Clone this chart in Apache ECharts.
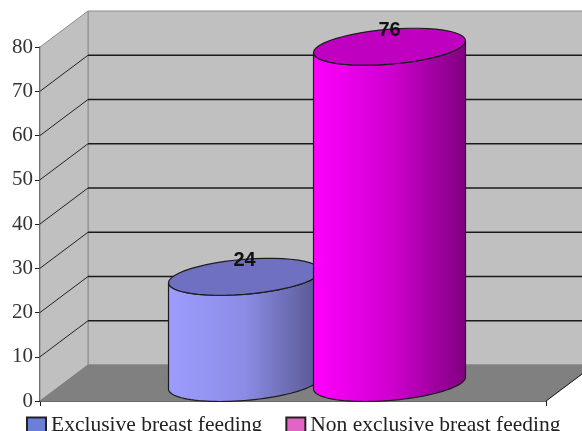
<!DOCTYPE html>
<html><head><meta charset="utf-8">
<style>html,body{margin:0;padding:0;background:#fff}#c{width:582px;height:431px}</style>
<script src="https://cdn.jsdelivr.net/npm/echarts@6/dist/echarts.min.js"></script>
</head><body><div id="c"></div>
<script>
const categories = ['Exclusive breast feeding', 'Non exclusive breast feeding'];
const values = [24, 76];
const yTicks = [0, 10, 20, 30, 40, 50, 60, 70, 80];
const gridTicks = [10, 20, 30, 40, 50, 60, 70];

const legendColors = ['#6a7fd6', '#e264c4'];
const bodyColors = [['#9c9cff', '#8c8ce6', '#56568f'], ['#ff00ff', '#d000d0', '#800080']];
const topColors = ['#7070c2', '#c000c0'];
const DX = 48, DY = -36, RX = 76, RY = 17.5, SKEW = 6;
const WALL = '#c0c0c0', FLOOR = '#808080', EDGE = '#8c8c8c', INK = '#1c1c1c';

const chart = echarts.init(document.getElementById('c'), null, {renderer: 'canvas'});

function wallItem(params, api) {
  const bl = api.coord([0, 0]), tl = api.coord([0, 80]), br = api.coord([1, 0]);
  const s = {fill: WALL, stroke: EDGE, lineWidth: 1};
  return {type: 'group', children: [
    {type: 'polygon', shape: {points: [[tl[0] + DX, tl[1] + DY], [br[0] + 80, tl[1] + DY], [br[0] + 80, bl[1] + DY], [bl[0] + DX, bl[1] + DY]]}, style: s},
    {type: 'polygon', shape: {points: [tl, [tl[0] + DX, tl[1] + DY], [bl[0] + DX, bl[1] + DY], bl]}, style: s},
    {type: 'polygon', shape: {points: [bl, br, [br[0] + DX, br[1] + DY], [br[0] + 80, bl[1] + DY], [bl[0] + DX, bl[1] + DY]]}, style: {fill: FLOOR, stroke: FLOOR, lineWidth: 1}},
    {type: 'line', shape: {x1: br[0], y1: br[1], x2: br[0] + DX, y2: br[1] + DY}, style: {stroke: INK, lineWidth: 1}}
  ]};
}
function gridItem(params, api) {
  const p = api.coord([0, api.value(0)]), r = api.coord([1, api.value(0)]);
  return {type: 'group', children: [
    {type: 'line', shape: {x1: p[0], y1: p[1], x2: p[0] + DX, y2: p[1] + DY}, style: {stroke: '#222', lineWidth: 1}},
    {type: 'line', shape: {x1: p[0] + DX, y1: p[1] + DY, x2: r[0] + 80, y2: p[1] + DY}, style: {stroke: '#1a1a1a', lineWidth: 1.5}}
  ]};
}
function ring(cx, cy, from, to) {
  const pts = [];
  for (let i = 0; i <= 48; i++) {
    const t = from + (to - from) * i / 48;
    pts.push([cx + RX * Math.cos(t), cy + RY * Math.sin(t) - SKEW * Math.cos(t)]);
  }
  return pts;
}
function cylinder(params, api) {
  const i = api.value(0);
  const base = api.coord([i, 0]), top = api.coord([i, api.value(1)]);
  const cx = base[0];
  const front = ring(cx, base[1], 0, Math.PI);
  const body = [...front, ...ring(cx, top[1], Math.PI, 0)];
  const c = bodyColors[i];
  return {type: 'group', children: [
    {type: 'polygon', shape: {points: body}, style: {
      fill: new echarts.graphic.LinearGradient(0, 0, 1, 0, [{offset: 0, color: c[0]}, {offset: 0.5, color: c[1]}, {offset: 1, color: c[2]}]),
      stroke: INK, lineWidth: 1.2}},
    {type: 'polygon', shape: {points: ring(cx, top[1], 0, 2 * Math.PI)}, style: {fill: topColors[i], stroke: INK, lineWidth: 1.2}},
    {type: 'text', style: {x: cx, y: top[1] - 16, text: String(api.value(1)), align: 'center', verticalAlign: 'middle',
      font: 'bold 20px "Liberation Sans", sans-serif', fill: '#111'}}
  ]};
}

chart.setOption({
  animation: false,
  backgroundColor: '#fff',
  grid: [
    {left: 40, right: 36, top: 47, bottom: 30},
    {left: 172, right: 120, top: 29, bottom: 48}
  ],
  legend: {
    data: categories, left: 26, top: 414, padding: 0, itemWidth: 19, itemHeight: 15, itemGap: 23,
    icon: 'rect', inactiveColor: '#333',
    textStyle: {fontFamily: '"Liberation Serif", serif', fontSize: 21.5, color: '#222', padding: [3, 0, 0, 0]}
  },
  xAxis: [
    {type: 'value', gridIndex: 0, min: 0, max: 1, interval: 1,
      axisLine: {show: true, onZero: false, lineStyle: {color: INK, width: 1.5}},
      axisTick: {show: true, length: 5, lineStyle: {color: INK}},
      axisLabel: {show: false}, splitLine: {show: false}},
    {type: 'category', gridIndex: 1, data: categories, show: false}
  ],
  yAxis: [
    {type: 'value', gridIndex: 0, min: 0, max: 80, interval: 10,
      axisLine: {show: true, lineStyle: {color: INK, width: 1.5}},
      axisTick: {show: true, length: 5, lineStyle: {color: INK}},
      axisLabel: {fontFamily: '"Liberation Serif", serif', fontSize: 21, color: '#333', margin: 7, padding: [6, 0, 0, 0],
        formatter: v => yTicks.includes(v) ? String(v) : ''},
      splitLine: {show: false}},
    {type: 'value', gridIndex: 1, min: 0, max: 80, show: false}
  ],
  series: [
    {type: 'custom', name: 'walls', xAxisIndex: 0, yAxisIndex: 0, clip: false, z: 1, silent: true, data: [0], renderItem: wallItem},
    {type: 'custom', name: 'gridlines', xAxisIndex: 0, yAxisIndex: 0, clip: false, z: 2, silent: true, data: gridTicks, encode: {y: 0}, renderItem: gridItem},
    ...categories.map((name, i) => ({
      type: 'custom', name, xAxisIndex: 1, yAxisIndex: 1, clip: false, z: 3 + i,
      itemStyle: {color: legendColors[i], borderColor: '#222', borderWidth: 1},
      encode: {x: 0, y: 1},
      data: [[i, values[i]]], renderItem: cylinder
    }))
  ]
});
</script></body></html>
